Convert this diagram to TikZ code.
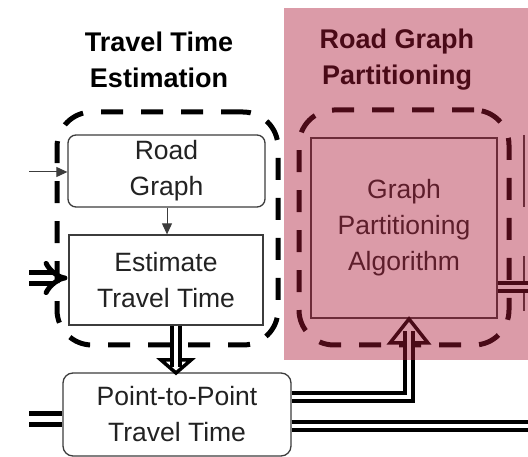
\documentclass[tikz,border=0pt]{standalone}
\usepackage{fontspec}
\setmainfont{Liberation Sans}
\usetikzlibrary{arrows.meta,calc}
\definecolor{ovl}{RGB}{172,25,55}
\definecolor{boxgray}{RGB}{60,60,60}
\definecolor{txt}{RGB}{34,34,34}
\tikzset{
  boxtext/.style={font=\fontsize{26.5}{36}\selectfont, text=txt, align=center, inner sep=0pt},
  titletext/.style={font=\fontsize{27}{36}\selectfont\bfseries, text=black, align=center, inner sep=0pt},
  rbox/.style={draw=boxgray, line width=1.3pt, fill=white, rounded corners=8pt, boxtext},
  sbox/.style={draw=boxgray, line width=1.3pt, fill=white, boxtext},
  group/.style={draw=black, line width=5pt, dash pattern=on 22pt off 18pt, rounded corners=35pt, inner sep=0pt},
  dbl/.style={draw=black, line width=4pt, double=white, double distance=4pt},
  dblw/.style={draw=black, line width=5pt, double=white, double distance=6pt},
  thin/.style={draw=boxgray, line width=1pt, -{Triangle[length=11pt,width=10pt]}},
  bighead/.style={draw=black, fill=white, line width=3.5pt, line join=miter},
}
\begin{document}
\begin{tikzpicture}[x=1pt,y=-1pt]
\useasboundingbox (0,0) rectangle (528,457);
\fill[white] (0,0) rectangle (528,457);
% titles
\node[titletext] (t1) at (159,59.5) {Travel Time\\Estimation};
\node[titletext] (t2) at (397,59.5) {Road Graph\\Partitioning};
% dashed groups
\node[group, minimum width=221pt, minimum height=233pt] (g1) at (167.5,228.5) {};
\node[group, minimum width=210pt, minimum height=235pt] (g2) at (404,227.5) {};
% boxes
\node[rbox, minimum width=197pt, minimum height=72pt] (rg) at (166.5,171) {Road\\Graph};
\node[sbox, minimum width=194pt, minimum height=90pt] (est) at (166,280) {Estimate\\Travel Time};
\node[rbox, rounded corners=10pt, minimum width=228pt, minimum height=83pt] (pp) at (177,414.5) {Point-to-Point\\Travel Time};
\node[sbox, minimum width=186pt, minimum height=180pt] (gp) at (404,228) {Graph\\Partitioning\\Algorithm};
% cut-off neighbour box edges on the right
\draw[boxgray, line width=1.3pt] (524,135) -- (524,207);
\draw[boxgray, line width=1.3pt] (524,256) -- (524,311);
% thin arrows
\coordinate (in1) at (29,172);
\draw[thin] (in1) -- (rg.west |- in1);
\draw[thin] (rg.south -| 167,0) -- (est.north -| 167,0);
% double input arrows
\coordinate (in2) at (29,278);
\draw[dblw, -{Implies}] (in2) -- ($(est.west |- in2)+(-1,0)$);
\coordinate (in3) at (29,419);
\draw[dblw] (in3) -- (pp.west |- in3);
% estimate -> p2p big arrow
\coordinate (dtip) at (176,373);
\filldraw[bighead] (161,360) -- (191,360) -- (dtip) -- cycle;
\draw[dbl] (est.south -| dtip) -- ($(dtip)+(0,-6)$);
% p2p -> graph partitioning
\coordinate (utip) at (409,319);
\filldraw[bighead] (390,343) -- (428,343) -- (utip) -- cycle;
\draw[dbl] ($(pp.east)+(0,-17.5)$) -| ($(utip)+(0,12)$);
% p2p -> right
\draw[dbl] ($(pp.east)+(0,11)$) -- (530,425.5);
% graph partitioning -> right
\draw[dbl] (gp.east |- 0,287) -- (530,287);
% pink overlay
\fill[ovl, opacity=0.43] (284,8) rectangle (528,360);
\end{tikzpicture}
\end{document}
